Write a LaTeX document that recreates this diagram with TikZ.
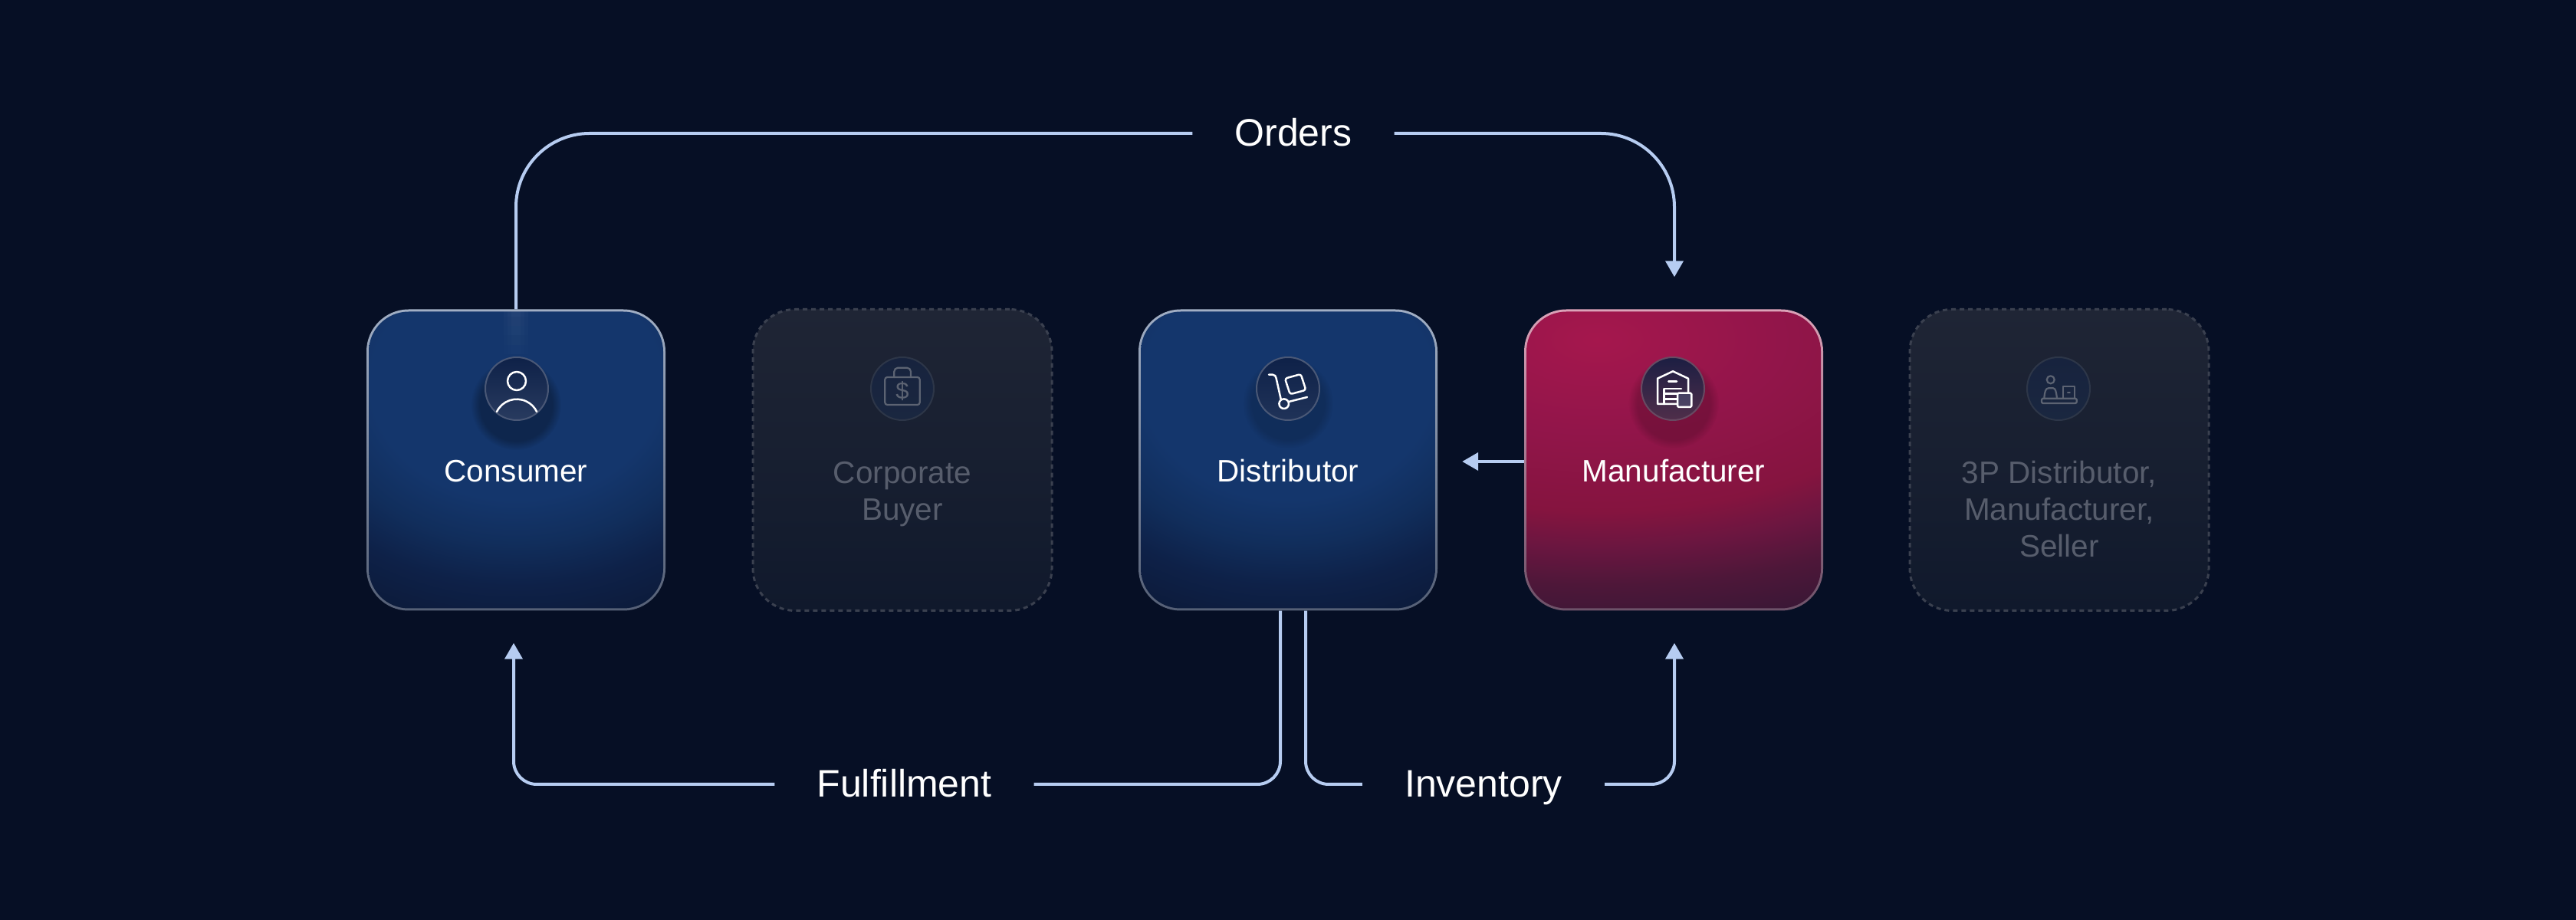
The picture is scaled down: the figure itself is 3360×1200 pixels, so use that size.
\documentclass[tikz,border=0pt]{standalone}
\usepackage{fontspec}
\setmainfont{Liberation Sans}
\usetikzlibrary{arrows.meta,calc,fadings}
\definecolor{pagecol}{HTML}{060F25}
\definecolor{flowcol}{HTML}{B6CCF1}
\definecolor{dimtext}{HTML}{575D6C}
\definecolor{dimline}{HTML}{5C6372}
\definecolor{dimedge}{HTML}{3A404F}
\definecolor{dimtop}{HTML}{1F2535}
\definecolor{dimbottom}{HTML}{10192C}
\definecolor{dimiconA}{HTML}{17233E}
\definecolor{dimiconB}{HTML}{1A2740}
\definecolor{dimring}{HTML}{2D3648}
\definecolor{blueA}{HTML}{14366C}
\definecolor{blueB}{HTML}{112E5C}
\definecolor{blueC}{HTML}{0E2148}
\definecolor{blueD}{HTML}{0C1B3B}
\definecolor{redA}{HTML}{A5174D}
\definecolor{redB}{HTML}{92154A}
\definecolor{redC}{HTML}{85143F}
\definecolor{redD}{HTML}{6A1640}
\definecolor{redE}{HTML}{4E1739}
\definecolor{redF}{HTML}{3C1736}
\pgfdeclareradialshading{glowblue}{\pgfpoint{0bp}{0bp}}{color(0bp)=(blueA); color(9.5bp)=(blueA); color(13bp)=(blueB); color(16.5bp)=(blueC); color(20bp)=(blueD); color(50bp)=(blueD)}
\pgfdeclareradialshading{glowred}{\pgfpoint{0bp}{0bp}}{color(0bp)=(redA); color(7.5bp)=(redB); color(14bp)=(redC); color(17bp)=(redD); color(20bp)=(redE); color(23bp)=(redF); color(50bp)=(redF)}
\tikzset{
  card/.style={rectangle,rounded corners=55bp,minimum width=390bp,minimum height=393bp,inner sep=0pt},
  cardfill/.style={rectangle,rounded corners=52bp,minimum width=384bp,minimum height=387bp,inner sep=0pt,
    path picture={\shade[shading=#1] ($(path picture bounding box.center)+(-500bp,-300bp)$) rectangle +(1000bp,800bp);}},
  bluecard/.style={card,top color=white!60!blueA,bottom color=white!30!blueD},
  dimcard/.style={card,draw=dimedge,line width=3bp,dash pattern=on 6bp off 5bp,top color=dimtop,bottom color=dimbottom},
  cardtext/.style={anchor=base,text=white,font=\fontsize{40.5bp}{48bp}\selectfont,align=center,inner sep=0pt},
  dimtextstyle/.style={cardtext,text=dimtext},
  flowtext/.style={text=white,font=\fontsize{50bp}{50bp}\selectfont,inner xsep=55bp,inner ysep=0pt,text height=34bp,text depth=0pt},
  flow/.style={draw=flowcol,line width=4bp},
  iconbase/.style={circle,minimum size=82bp,inner sep=0pt,draw=white!25!blueC,line width=2bp},
  dimiconbase/.style={iconbase,draw=dimring,top color=dimiconA,bottom color=dimiconB},
  iconshadow/.style={circle,minimum size=118bp,inner sep=0pt,fill=black,fill opacity=.28,path fading=circle with fuzzy edge 20 percent},
  glyph/.style={draw=white,line width=2.5bp,line join=round,line cap=round},
  dimglyph/.style={draw=dimline,line width=2.2bp,line join=round,line cap=round},
}
\begin{document}
\begin{tikzpicture}[>={Triangle[length=21bp,width=23bp]}]
\useasboundingbox (0bp,0bp) rectangle (3360bp,1200bp);
\fill[pagecol] (0bp,0bp) rectangle (3360bp,1200bp);
%%
  \node (consumer) at (673bp,600bp) [bluecard] {};
  \node (consumerfill) at (consumer) [cardfill=glowblue] {};
  \node (corporate) at (1177bp,600bp) [dimcard] {};
  \node (distributor) at (1680bp,600bp) [bluecard] {};
  \node (distributorfill) at (distributor) [cardfill=glowblue] {};
  \node (manufacturer) at (2183bp,600bp) [card,top color=white!60!redA,bottom color=white!25!redF] {};
  \node (manufacturerfill) at (manufacturer) [rectangle,rounded corners=52bp,minimum width=384bp,minimum height=387bp,inner sep=0pt,
    path picture={\shade[shading=glowred] ($(path picture bounding box.center)+(-900bp,-243bp)$) rectangle +(1600bp,800bp);}] {};
  \node (thirdparty) at (2686bp,600bp) [dimcard] {};
%
\foreach \w in {12,22,32}
  \fill[white,opacity=.025,path fading=south] (673bp-\w bp/2,794bp) rectangle (673bp+\w bp/2,720bp);
%
  \node (consumershadow) at (673bp,672bp) [iconshadow] {};
  \node (consumericon) at (674bp,693bp) [iconbase,top color=blueC,bottom color=white!12!blueC!90!blueA] {};
  \draw [glyph] (674bp,703bp) circle (12bp);
  \draw [glyph] (648bp,663bp) arc[start angle=154,end angle=26,radius=29bp];
%
  \node (distributorshadow) at (1680bp,674bp) [iconshadow,fill opacity=.16] {};
  \node (distributoricon) at (1680bp,693bp) [iconbase,top color=blueC,bottom color=white!8!blueC!90!blueA] {};
  \begin{scope}[shift={(1680bp,693bp)},x=1bp,y=1bp]
    \draw [glyph] (-25,18.3) -- (-20,18.3) .. controls (-17,18.3) and (-16,16) .. (-15.5,14) -- (-9.3,-13.6);
    \draw [glyph] (-5.3,-19.7) circle (6.3);
    \draw [glyph] (1,-17) -- (25,-11);
    \draw [glyph,rounded corners=3] (-4,13.3) -- (16.7,19) -- (23.3,-1.7) -- (2.7,-7.3) -- cycle;
  \end{scope}
%
  \node (manufacturershadow) at (2183bp,674bp) [iconshadow,fill opacity=.18] {};
  \node (manufacturericon) at (2182bp,693bp) [iconbase,draw=white!22!redF,top color=blueC!70!redF,bottom color=white!10!redF] {};
  \begin{scope}[shift={(2182bp,693bp)},x=1bp,y=1bp]
    \draw [glyph] (6,-20) -- (-20,-20) -- (-20,13.3) -- (0,22.7) -- (20,13.3) -- (20,-5);
    \draw [glyph] (-5.7,9.3) -- (5,9.3);
    \draw [glyph] (-11.7,-20) -- (-11.7,0) -- (11,0);
    \draw [glyph] (-11.7,-6.5) -- (6,-6.5);
    \draw [glyph] (-11.7,-13.3) -- (6,-13.3);
    \draw [glyph,fill=blueA!70!white,fill opacity=.35,rounded corners=1.5] (6,-5.7) rectangle (24.3,-24);
  \end{scope}
%
  \node (corporateicon) at (1177bp,693bp) [dimiconbase] {};
  \begin{scope}[shift={(1177bp,693bp)},x=1bp,y=1bp]
    \draw [dimglyph,rounded corners=5] (-10.7,15) -- (-10.7,27.3) -- (11,27.3) -- (11,15);
    \draw [dimglyph,rounded corners=3] (-22.7,15) rectangle (22.7,-21);
    \node (corporatedollar) at (0,-3) [inner sep=0pt,text=dimline,font=\fontsize{31bp}{31bp}\selectfont] {\$};
  \end{scope}
%
  \node (thirdpartyicon) at (2685bp,693bp) [dimiconbase] {};
  \begin{scope}[shift={(2685bp,693bp)},x=1bp,y=1bp]
    \draw [dimglyph] (-10.3,11.7) circle (5);
    \draw [dimglyph] (-18.7,-12.7) .. controls (-18,-4) and (-17,0.7) .. (-13,0.7) -- (-7,0.7) .. controls (-4,0.7) and (-3,-4) .. (-2,-12.7);
    \draw [dimglyph] (6,-12.7) -- (6,3.3) -- (21.3,3.3) -- (21.3,-12.7);
    \draw [dimglyph] (12,-5.3) -- (14.7,-5.3);
    \draw [dimglyph,rounded corners=1.5] (-22,-12.7) rectangle (23.7,-19);
  \end{scope}
%
  \node (consumertext) at (673bp,571bp) [cardtext] {Consumer};
  \node (corporatetext) at (1177bp,521bp) [dimtextstyle] {Corporate\\Buyer};
  \node (distributortext) at (1680bp,571bp) [cardtext] {Distributor};
  \node (manufacturertext) at (2183bp,571bp) [cardtext] {Manufacturer};
  \node (thirdpartytext) at (2686bp,473bp) [dimtextstyle] {3P Distributor,\\Manufacturer,\\Seller};
%
  \node (orders) at (1687bp,1026bp) [flowtext] {Orders};
  \node (fulfillment) at (1179.5bp,177bp) [flowtext] {Fulfillment};
  \node (inventory) at (1935bp,177bp) [flowtext] {Inventory};
%
  \coordinate (ordersin) at ([xshift=1bp,yshift=42bp]manufacturer.north);
  \coordinate (fulfillin) at ([xshift=-3bp,yshift=-42bp]consumer.south);
  \coordinate (inventoryin) at ([xshift=1bp,yshift=-42bp]manufacturer.south);
  \coordinate (stockout) at ([yshift=-2bp]manufacturer.west);
  \coordinate (stockin) at ([xshift=32bp,yshift=-2bp]distributor.east);
  \draw [flow,rounded corners=96bp] (consumer.north) |- (orders.west);
  \draw [flow,->,rounded corners=96bp] (orders.east) -| (ordersin);
  \draw [flow,rounded corners=30bp] ([xshift=-10bp]distributor.south) |- (fulfillment.east);
  \draw [flow,->,rounded corners=30bp] (fulfillment.west) -| (fulfillin);
  \draw [flow,rounded corners=30bp] ([xshift=23bp]distributor.south) |- (inventory.west);
  \draw [flow,->,rounded corners=30bp] (inventory.east) -| (inventoryin);
  \draw [flow,->] (stockout) -- (stockin);
%
\end{tikzpicture}
\end{document}
